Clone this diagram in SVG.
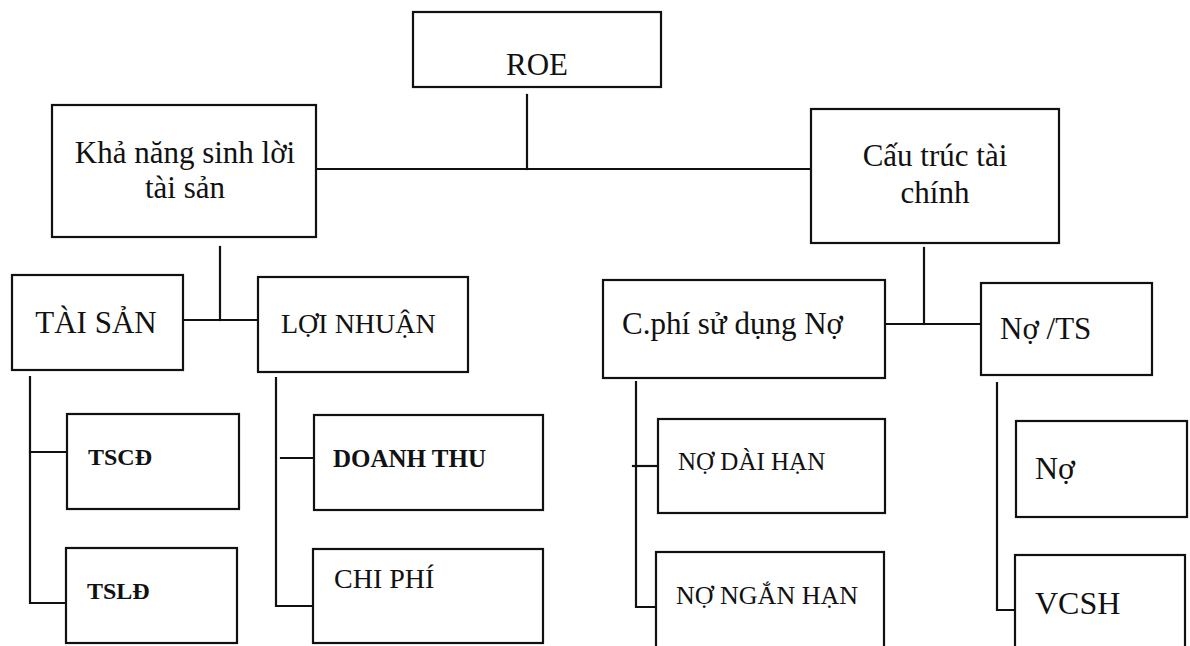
<svg xmlns="http://www.w3.org/2000/svg" width="1190" height="646" viewBox="0 0 1190 646">
<style>
  .box { fill: #ffffff; stroke: #111111; stroke-width: 2.2; }
  .ln { fill: none; stroke: #111111; stroke-width: 2.2; stroke-linecap: square; }
  text { font-family: "Liberation Serif", "Times New Roman", serif; fill: #111111; }
  .big { font-size: 31px; }
  .mid { font-size: 28px; }
  .sm { font-size: 25px; }
  .smb { font-size: 24px; font-weight: bold; }
  .c { text-anchor: middle; }
</style>
<rect width="1190" height="646" fill="#ffffff"/>
<g id="connectors">
  <path class="ln" d="M527 95 V169"/>
  <path class="ln" d="M316 169 H811"/>
  <path class="ln" d="M220 247 V320"/>
  <path class="ln" d="M183 320 H258"/>
  <path class="ln" d="M924 248 V324"/>
  <path class="ln" d="M885 324 H981"/>
  <path class="ln" d="M30 377 V603 H66"/>
  <path class="ln" d="M30 452 H67"/>
  <path class="ln" d="M276 378 V606 H313"/>
  <path class="ln" d="M281 458 H314"/>
  <path class="ln" d="M636 382 V607 H656"/>
  <path class="ln" d="M633 466 H658"/>
  <path class="ln" d="M997 383 V610 H1015"/>
</g>
<g id="roe">
  <rect class="box" x="413" y="12" width="248" height="75"/>
  <text class="big c" x="537" y="75">ROE</text>
</g>
<g id="kha-nang-sinh-loi">
  <rect class="box" x="52" y="105" width="264" height="132"/>
  <text class="big c" x="185" y="163">Khả năng sinh lời</text>
  <text class="big c" x="185" y="198">tài sản</text>
</g>
<g id="cau-truc-tai-chinh">
  <rect class="box" x="811" y="109" width="248" height="134"/>
  <text class="big c" x="935" y="166">Cấu trúc tài</text>
  <text class="big c" x="935" y="203">chính</text>
</g>
<g id="tai-san">
  <rect class="box" x="12" y="275" width="171" height="95"/>
  <text class="big c" x="96" y="333">TÀI SẢN</text>
</g>
<g id="loi-nhuan">
  <rect class="box" x="258" y="277" width="210" height="95"/>
  <text class="mid" x="281" y="333">LỢI NHUẬN</text>
</g>
<g id="chi-phi-su-dung-no">
  <rect class="box" x="603" y="280" width="282" height="98"/>
  <text class="big" x="622" y="334">C.phí sử dụng Nợ</text>
</g>
<g id="no-ts">
  <rect class="box" x="981" y="283" width="171" height="92"/>
  <text class="big" x="1000" y="339">Nợ /TS</text>
</g>
<g id="tscd">
  <rect class="box" x="67" y="414" width="172" height="95"/>
  <text class="smb" x="88" y="465">TSCĐ</text>
</g>
<g id="tsld">
  <rect class="box" x="66" y="548" width="171" height="95"/>
  <text class="smb" x="87" y="599">TSLĐ</text>
</g>
<g id="doanh-thu">
  <rect class="box" x="314" y="415" width="229" height="95"/>
  <text class="smb" x="333" y="467" style="font-size:25px">DOANH THU</text>
</g>
<g id="chi-phi">
  <rect class="box" x="313" y="549" width="230" height="94"/>
  <text class="mid" x="334" y="588">CHI PHÍ</text>
</g>
<g id="no-dai-han">
  <rect class="box" x="658" y="419" width="227" height="94"/>
  <text class="sm" x="678" y="470">NỢ DÀI HẠN</text>
</g>
<g id="no-ngan-han">
  <rect class="box" x="656" y="552" width="228" height="100"/>
  <text class="sm" x="676" y="604" style="font-size:26px">NỢ NGẮN HẠN</text>
</g>
<g id="no">
  <rect class="box" x="1016" y="421" width="171" height="96"/>
  <text class="big" x="1035" y="479" style="font-size:32px">Nợ</text>
</g>
<g id="vcsh">
  <rect class="box" x="1015" y="555" width="170" height="97"/>
  <text class="big" x="1035" y="614" style="font-size:32px">VCSH</text>
</g>
</svg>
